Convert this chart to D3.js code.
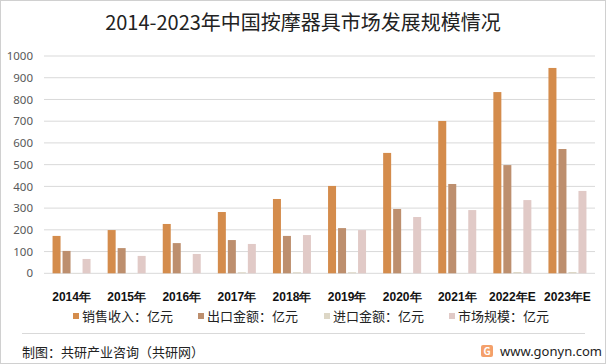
<!DOCTYPE html>
<html><head><meta charset="utf-8">
<script src="https://cdn.jsdelivr.net/npm/d3@7/dist/d3.min.js"></script>
<style>
html,body{margin:0;padding:0;background:#fff;}
svg{display:block;font-family:"Noto Sans CJK SC","Noto Sans",sans-serif;}
</style></head>
<body><svg id="c" width="606" height="364"></svg>
<script>
const years = ["2014年","2015年","2016年","2017年","2018年","2019年","2020年","2021年","2022年E","2023年E"];
const seriesNames = ["销售收入：亿元","出口金额：亿元","进口金额：亿元","市场规模：亿元"];
const sales  = [172, 199, 227, 282, 342, 402, 554, 701, 834, 945];
const exportV = [103, 116, 139, 153, 172, 208, 296, 411, 498, 572];
const importV = [1, 1, 1, 5, 5, 5, 1, 1, 6, 6];
const market = [66, 80, 89, 135, 176, 199, 259, 291, 337, 379];
const yTicks = [0,100,200,300,400,500,600,700,800,900,1000];
const colors = ["#D48C4C","#BD8F6E","#DDD7C6","#E1CAC7"];

const svg = d3.select("#c");
svg.append("rect").attr("x",0.5).attr("y",0.5).attr("width",605).attr("height",363)
  .attr("fill","#fff").attr("stroke","#D0D0D0");

svg.append("text").attr("x",303).attr("y",30).attr("text-anchor","middle")
  .attr("font-size",20).attr("fill","#222").text("2014-2023年中国按摩器具市场发展规模情况");

const x0 = d3.scaleBand().domain(years).range([44,595]).paddingInner(0).paddingOuter(0);
const y = d3.scaleLinear().domain([0,1000]).range([273.3,56]);
const x1 = d3.scaleBand().domain(d3.range(4)).range([-19,19]).paddingInner(0.2);

svg.append("g").selectAll("line").data(yTicks).join("line")
  .attr("x1",44).attr("x2",595).attr("y1",d=>y(d)).attr("y2",d=>y(d))
  .attr("stroke","#D9D9D9").attr("stroke-width",1);

const yAxis = d3.axisLeft(y).tickValues(yTicks).tickFormat(d3.format("d")).tickSize(0).tickPadding(0);
const ga = svg.append("g").attr("transform","translate(33,0)").call(yAxis);
ga.select(".domain").remove();
ga.selectAll("text").attr("font-size",11.5).attr("fill","#595959").attr("font-family","'Noto Sans','DejaVu Sans',sans-serif");

const data = [sales, exportV, importV, market];
years.forEach((yr,i)=>{
  const cx = x0(yr) + x0.bandwidth()/2;
  data.forEach((arr,s)=>{
    svg.append("rect")
      .attr("x", cx + x1(s))
      .attr("width", x1.bandwidth())
      .attr("y", y(arr[i]))
      .attr("height", y(0)-y(arr[i]))
      .attr("fill", colors[s]);
  });
});

const xAxis = d3.axisBottom(x0).tickSize(0).tickPadding(0);
const gx = svg.append("g").attr("transform","translate(0,301)").call(xAxis);
gx.select(".domain").remove();
gx.selectAll("text").attr("font-size",12).attr("font-weight","bold").attr("fill","#111").attr("dy",0);

const lx = [73, 198, 324, 449];
seriesNames.forEach((n,i)=>{
  svg.append("rect").attr("x",lx[i]).attr("y",313).attr("width",6).attr("height",6).attr("fill",colors[i]);
  svg.append("text").attr("x",lx[i]+9).attr("y",321).attr("font-size",13).attr("fill","#222").text(n);
});

svg.append("line").attr("x1",22).attr("x2",585).attr("y1",333.5).attr("y2",333.5).attr("stroke","#D9D9D9");

svg.append("text").attr("x",22).attr("y",357).attr("font-size",13).attr("fill","#222").text("制图：共研产业咨询（共研网）");
const lg = svg.append("g").attr("transform","translate(481,345)");
lg.append("rect").attr("width",12).attr("height",12).attr("rx",2).attr("fill","#F4A06A");
lg.append("text").attr("x",6).attr("y",10).attr("text-anchor","middle").attr("font-size",10).attr("font-weight","bold").attr("fill","#fff").text("G");
svg.append("text").attr("x",500).attr("y",356).attr("font-size",13).attr("fill","#222").attr("font-family","'Noto Sans',sans-serif").text("www.gonyn.com");
</script></body></html>
